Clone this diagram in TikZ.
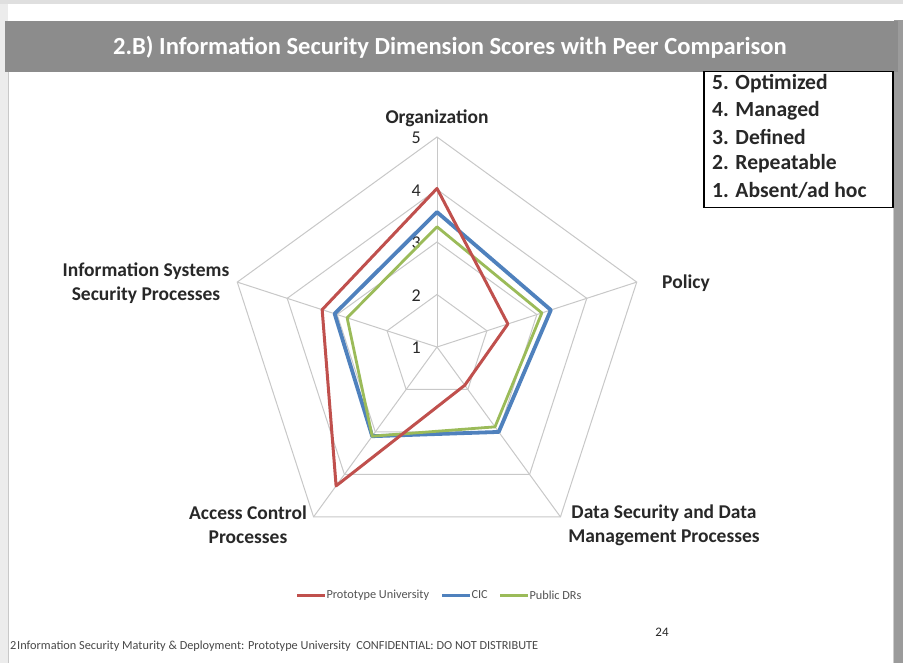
\documentclass[tikz,border=0pt]{standalone}
\usepackage{fontspec}
\setmainfont{Carlito}
\usetikzlibrary{calc}

\definecolor{barGray}{RGB}{140,140,140}
\definecolor{edgeGray}{RGB}{155,155,155}
\definecolor{paneGray}{RGB}{236,236,236}
\definecolor{gridGray}{RGB}{200,200,200}
\definecolor{serRed}{RGB}{192,80,77}
\definecolor{serBlue}{RGB}{79,129,189}
\definecolor{serGreen}{RGB}{155,187,89}
\definecolor{inkDark}{RGB}{40,40,40}

\tikzset{
  gridline/.style={draw=gridGray, line width=1pt},
  series/.style={line width=#1, line join=round},
  axislabel/.style={font=\fontsize{19.5}{24}\selectfont\bfseries, text=inkDark, align=center, inner sep=0pt},
  ticklabel/.style={font=\fontsize{18}{20}\selectfont, text=inkDark, anchor=east, inner sep=0pt},
  levelitem/.style={font=\fontsize{21.6}{24}\selectfont\bfseries, text=inkDark, anchor=west, inner sep=0pt},
  keytext/.style={font=\fontsize{12.3}{14}\selectfont, text=inkDark!80, anchor=west, inner sep=0pt},
  smalltext/.style={font=\fontsize{12.3}{14}\selectfont, text=inkDark!85, anchor=west, inner sep=0pt}
}

\begin{document}
\begin{tikzpicture}[x=1pt,y=-1pt]
  \useasboundingbox (0,0) rectangle (903,663);
  % slide background and frame
  \fill[white] (0,0) rectangle (903,663);
  \fill[paneGray] (0,0) rectangle (8,663);
  \draw[gridGray, line width=1pt] (8,72) -- (8,663);
  \fill[gray!25] (0,0) rectangle (903,4);
  \fill[edgeGray] (894,20) rectangle (903,663);
  \draw[gray!40, line width=1pt] (893,72) -- (893,663);
  % title bar
  \fill[barGray] (5,21) rectangle (898,72);
  \node[font=\fontsize{24.6}{28}\selectfont\bfseries, text=white] (title) at (450,47)
    {2.B) Information Security Dimension Scores with Peer Comparison};

  % maturity level key
  \node[draw=black, line width=1.5pt, fill=white, minimum width=189pt, minimum height=136pt, anchor=north west, inner sep=0pt] (levels) at (703,71) {};
  \node[levelitem] (l5) at (712,84) {5. Optimized};
  \node[levelitem] (l4) at (712,110.5) {4. Managed};
  \node[levelitem] (l3) at (712,137) {3. Defined};
  \node[levelitem] (l2) at (712,163.5) {2. Repeatable};
  \node[levelitem] (l1) at (712,190) {1. Absent/ad hoc};

  % radar chart: centre is value 1, one step is 52.5pt
  \begin{scope}[shift={(437,347)}]
    \coordinate (C) at (0,0);
    % spokes
    \foreach \k in {0,...,4} {
      \coordinate (spoke\k) at (-90+72*\k:210);
      \draw[gridline] (C) -- (spoke\k);
    }
    % level rings 2..5
    \foreach \lv in {2,3,4,5} {
      \pgfmathsetmacro{\rr}{(\lv-1)*52.5}
      \draw[gridline] (-90:\rr) -- (-18:\rr) -- (54:\rr) -- (126:\rr) -- (198:\rr) -- cycle;
    }
    % tick labels
    \foreach \lv in {1,...,5} {
      \pgfmathsetmacro{\rr}{(\lv-1)*52.5}
      \node[ticklabel] (tick\lv) at (-16,-\rr+1) {\lv};
    }
    % series values: Organization, Policy, Data Security, Access Control, Info Systems
    \foreach \name/\vals in {b/{3.57,3.28,3.0,3.1,3.05}, g/{3.29,3.1,2.88,3.1,2.8}, r/{4.02,2.42,1.9,4.27,3.3}} {
      \foreach \v [count=\i from 0] in \vals {
        \pgfmathsetmacro{\rr}{(\v-1)*52.5}
        \coordinate (\name\i) at (-90+72*\i:\rr);
      }
    }
    \draw[serBlue, series=3.8pt] (b0) -- (b1) -- (b2) -- (b3) -- (b4) -- cycle;
    \draw[serGreen, series=2.8pt] (g0) -- (g1) -- (g2) -- (g3) -- (g4) -- cycle;
    \draw[serRed, series=3pt] (r0) -- (r1) -- (r2) -- (r3) -- (r4) -- cycle;
  \end{scope}

  % category labels
  \node[axislabel] (org) at (437,118) {Organization};
  \node[axislabel, anchor=west] (pol) at (662,283) {Policy};
  \node[axislabel] (iss) at (146,283) {Information Systems\\Security Processes};
  \node[axislabel] (acp) at (248,525) {Access Control\\Processes};
  \node[axislabel] (dsp) at (664,525) {Data Security and Data\\Management Processes};

  % series key
  \coordinate (kr) at (297,595);
  \coordinate (kb) at (442,595);
  \coordinate (kg) at (500,595);
  \draw[serRed, line width=3pt] (kr) -- ++(28,0) node[keytext] (krt) {Prototype University};
  \draw[serBlue, line width=3pt] (kb) -- ++(28,0) node[keytext] (kbt) {CIC};
  \draw[serGreen, line width=3pt] (kg) -- ++(28,0) node[keytext] (kgt) {Public DRs};

  % footer
  \node[smalltext] (pageno) at (10,646) {2};
  \node[smalltext] (foot) at (17,646) {Information Security Maturity \& Deployment: Prototype University\ \ CONFIDENTIAL: DO NOT DISTRIBUTE};
  \node[font=\fontsize{13}{15}\selectfont, text=inkDark] (num) at (662,632) {24};
\end{tikzpicture}
\end{document}
